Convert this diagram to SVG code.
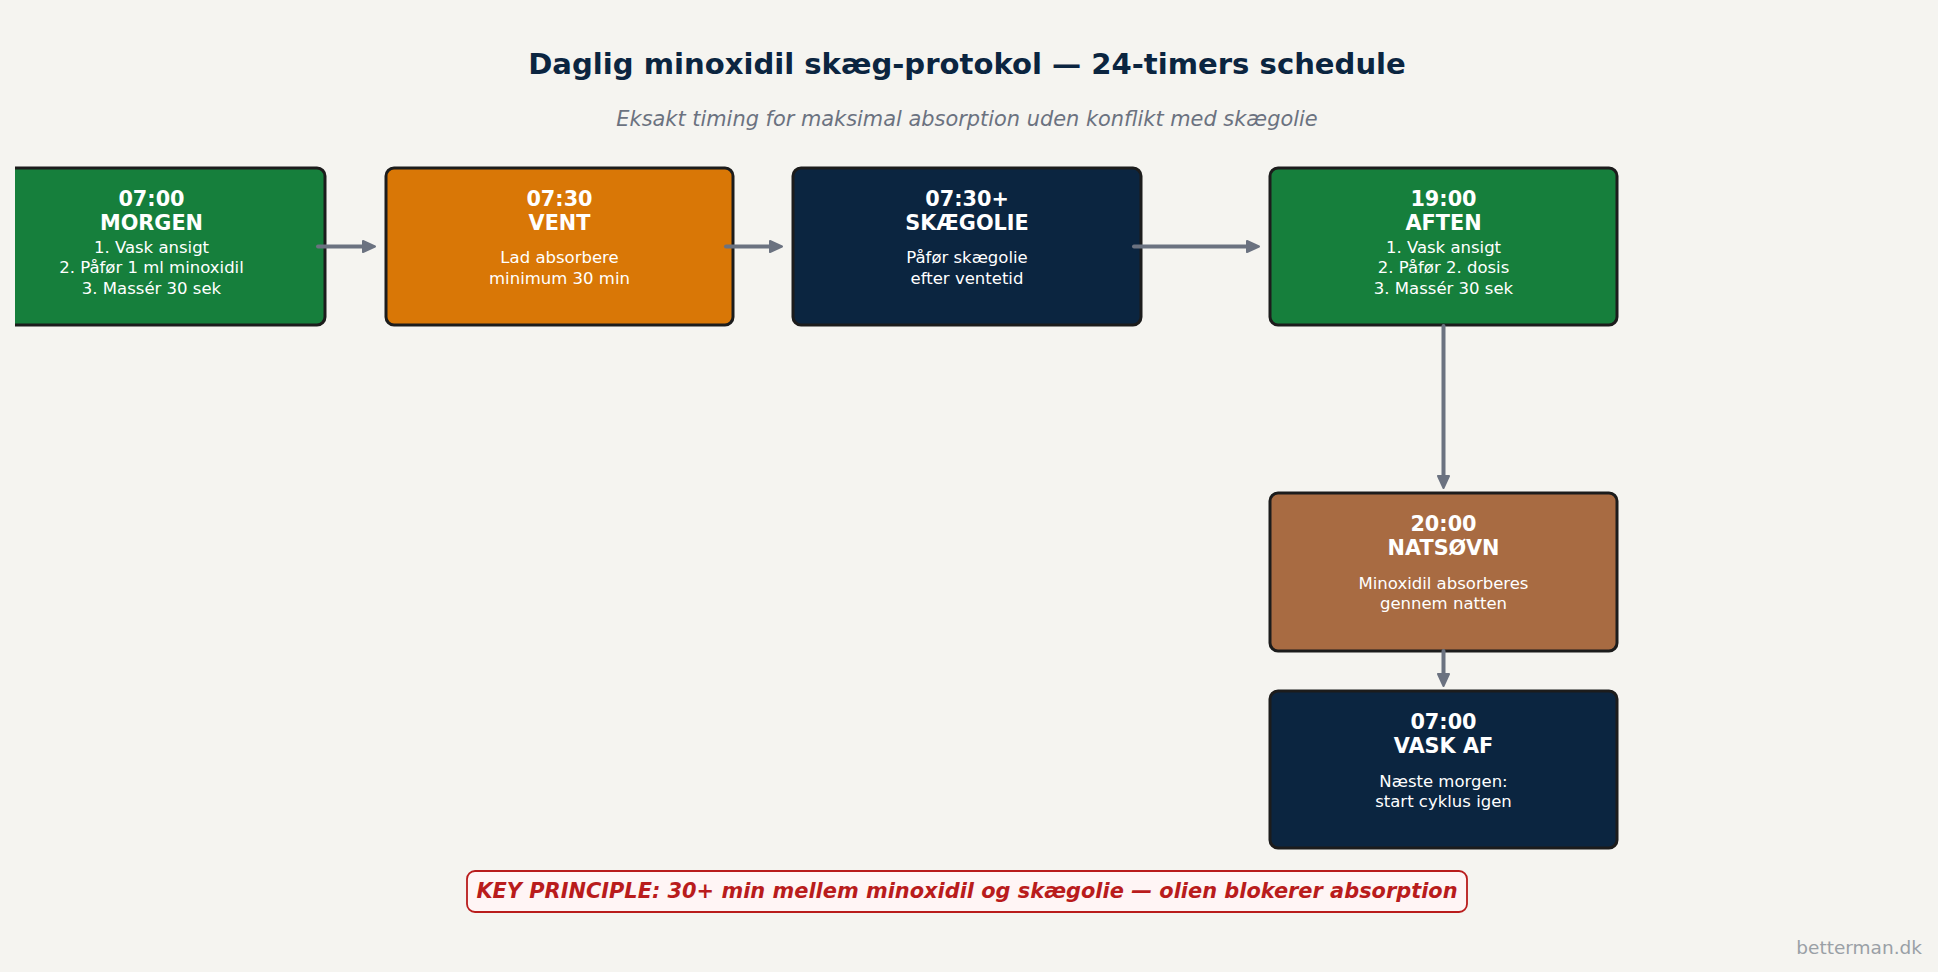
<svg xmlns="http://www.w3.org/2000/svg" width="1938" height="972" viewBox="0 0 1938 972">
<style>
text{font-family:"DejaVu Sans","Liberation Sans",sans-serif;}
.box{stroke:#1c1c1c;stroke-width:3;}
.t{font-weight:bold;font-size:20.8px;fill:#ffffff;text-anchor:middle;}
.b{font-size:16.5px;fill:#ffffff;text-anchor:middle;}
.green{fill:#167f3c;}
.orange{fill:#d97706;}
.navy{fill:#0b2540;}
.brown{fill:#a86b42;}
.conn{stroke:#6b7280;stroke-width:4;fill:none;stroke-linecap:round;}
</style>
<defs>
<marker id="ah" markerUnits="userSpaceOnUse" markerWidth="16" markerHeight="16" viewBox="0 0 16 16" refX="3" refY="8" orient="auto">
<path d="M2,2.5 L14,8 L2,13.5 Z" fill="#6b7280" stroke="#6b7280" stroke-width="2" stroke-linejoin="round"/>
</marker>
<clipPath id="clipL"><rect x="15" y="0" width="1938" height="972"/></clipPath>
</defs>
<rect x="0" y="0" width="1938" height="972" fill="#f5f4f0"/>
<text x="967" y="74" style="font-weight:bold;font-size:29.1px;fill:#0b2540;text-anchor:middle;">Daglig minoxidil skæg-protokol — 24-timers schedule</text>
<text x="967" y="126" style="font-style:italic;font-size:20.9px;fill:#6b7280;text-anchor:middle;">Eksakt timing for maksimal absorption uden konflikt med skægolie</text>

<g id="nodes">
<g id="morgen" clip-path="url(#clipL)">
<rect class="box green" x="-22" y="168" width="347" height="157" rx="8"/>
<text class="t" x="151.5" y="205.5">07:00</text>
<text class="t" x="151.5" y="229.5">MORGEN</text>
<text class="b" x="151.5" y="253">1. Vask ansigt</text>
<text class="b" x="151.5" y="273">2. Påfør 1 ml minoxidil</text>
<text class="b" x="151.5" y="293.5">3. Massér 30 sek</text>
</g>
<g id="vent">
<rect class="box orange" x="386" y="168" width="347" height="157" rx="8"/>
<text class="t" x="559.5" y="205.5">07:30</text>
<text class="t" x="559.5" y="229.5">VENT</text>
<text class="b" x="559.5" y="263">Lad absorbere</text>
<text class="b" x="559.5" y="284">minimum 30 min</text>
</g>
<g id="skaegolie">
<rect class="box navy" x="793" y="168" width="348" height="157" rx="8"/>
<text class="t" x="967" y="205.5">07:30+</text>
<text class="t" x="967" y="229.5">SKÆGOLIE</text>
<text class="b" x="967" y="263">Påfør skægolie</text>
<text class="b" x="967" y="284">efter ventetid</text>
</g>
<g id="aften">
<rect class="box green" x="1270" y="168" width="347" height="157" rx="8"/>
<text class="t" x="1443.5" y="205.5">19:00</text>
<text class="t" x="1443.5" y="229.5">AFTEN</text>
<text class="b" x="1443.5" y="253">1. Vask ansigt</text>
<text class="b" x="1443.5" y="273">2. Påfør 2. dosis</text>
<text class="b" x="1443.5" y="293.5">3. Massér 30 sek</text>
</g>
<g id="natsoevn">
<rect class="box brown" x="1270" y="493" width="347" height="158" rx="8"/>
<text class="t" x="1443.5" y="530.5">20:00</text>
<text class="t" x="1443.5" y="555">NATSØVN</text>
<text class="b" x="1443.5" y="588.5">Minoxidil absorberes</text>
<text class="b" x="1443.5" y="608.5">gennem natten</text>
</g>
<g id="vaskaf">
<rect class="box navy" x="1270" y="691" width="347" height="157" rx="8"/>
<text class="t" x="1443.5" y="728.5">07:00</text>
<text class="t" x="1443.5" y="753">VASK AF</text>
<text class="b" x="1443.5" y="786.5">Næste morgen:</text>
<text class="b" x="1443.5" y="806.5">start cyklus igen</text>
</g>
</g>

<g id="connectors">
<line class="conn" x1="318" y1="246.5" x2="364" y2="246.5" marker-end="url(#ah)"/>
<line class="conn" x1="726" y1="246.5" x2="771" y2="246.5" marker-end="url(#ah)"/>
<line class="conn" x1="1134" y1="246.5" x2="1248" y2="246.5" marker-end="url(#ah)"/>
<line class="conn" x1="1443.5" y1="326" x2="1443.5" y2="477" marker-end="url(#ah)"/>
<line class="conn" x1="1443.5" y1="651" x2="1443.5" y2="675" marker-end="url(#ah)"/>
</g>

<g id="key">
<rect x="467" y="871" width="1000" height="41" rx="8" fill="#fff5f5" stroke="#b91c1c" stroke-width="1.8"/>
<text x="967" y="898" style="font-weight:bold;font-style:italic;font-size:20.9px;fill:#b91c1c;text-anchor:middle;">KEY PRINCIPLE: 30+ min mellem minoxidil og skægolie — olien blokerer absorption</text>
</g>
<text x="1922" y="954" style="font-size:18.5px;fill:#9aa0a6;text-anchor:end;">betterman.dk</text>
</svg>
